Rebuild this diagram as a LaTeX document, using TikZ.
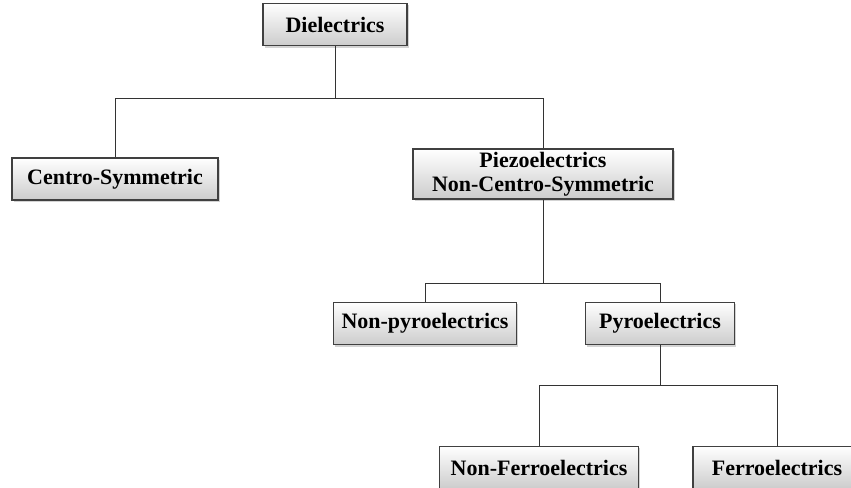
\documentclass[tikz,border=0pt]{standalone}
\usepackage{fontspec}
\setmainfont{Liberation Serif}
\usetikzlibrary{shadows, positioning}
\tikzset{
    caja/.style={draw=black!75, line width=0.8pt, top color=white, bottom color=black!20,
        drop shadow={opacity=0.35, shadow xshift=1.3pt, shadow yshift=-1.3pt},
        font=\fontsize{16.5}{18}\selectfont\bfseries, align=center, inner sep=0pt,
        minimum height=32pt},
    rama/.style={draw=black!80, line width=0.7pt},
}

\begin{document}
\begin{tikzpicture}[x=0.75pt, y=-0.75pt]
\useasboundingbox (0,0) rectangle (851,488);
% cajas
\node[caja, minimum width=108pt] (diel) at (335,24.5) {Dielectrics};
\node[caja, minimum width=154.5pt, minimum height=31.5pt] (centro) at (115,179) {Centro-Symmetric};
\node[caja, minimum width=195pt, minimum height=37.5pt] (piezo) at (543,174) {Piezoelectrics\\Non-Centro-Symmetric};
\node[caja, minimum width=137.25pt] (nopiro) at (425,323.5) {Non-pyroelectrics};
\node[caja, minimum width=111.75pt] (piro) at (660,323.5) {Pyroelectrics};
\node[caja, minimum width=149.25pt] (noferro) at (539,467.5) {Non-Ferroelectrics};
\node[caja, minimum width=126pt] (ferro) at (777,467.5) {Ferroelectrics};
% ramas
\coordinate (bus1) at (0,98);
\coordinate (bus2) at (0,283);
\coordinate (bus3) at (0,385);
\draw[rama] (diel.south) -- (diel.south |- bus1) -| (centro.north);
\draw[rama] (diel.south |- bus1) -| (piezo.north);
\draw[rama] (piezo.south) -- (piezo.south |- bus2) -| (nopiro.north);
\draw[rama] (piezo.south |- bus2) -| (piro.north);
\draw[rama] (piro.south) -- (piro.south |- bus3) -| (noferro.north);
\draw[rama] (piro.south |- bus3) -| (ferro.north);
\end{tikzpicture}
\end{document}
